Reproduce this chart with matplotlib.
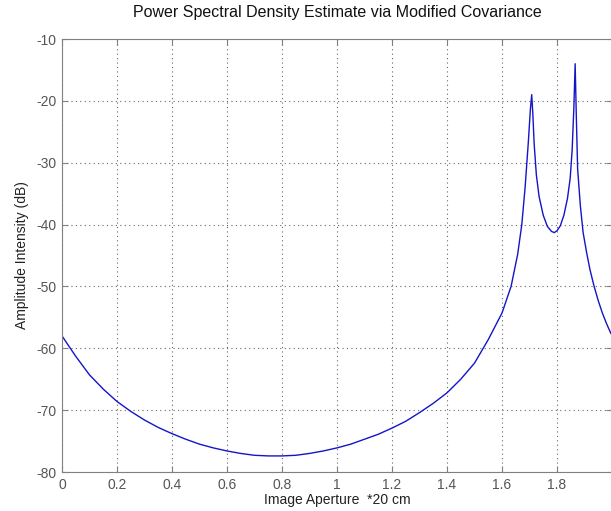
import numpy as np
import matplotlib
matplotlib.use("Agg")
import matplotlib.pyplot as plt

plt.rcParams['font.family'] = ['Liberation Sans', 'DejaVu Sans']
plt.rcParams['axes.unicode_minus'] = False

# values (normalised freq, dB)
freq = [0.0, 0.05, 0.1, 0.15, 0.2, 0.25, 0.3, 0.35, 0.4, 0.45, 0.5, 0.55,
        0.6, 0.65, 0.7, 0.75, 0.8, 0.85, 0.9, 0.95, 1.0, 1.05, 1.1, 1.15,
        1.2, 1.25, 1.3, 1.35, 1.4, 1.45, 1.5, 1.55, 1.6, 1.633, 1.657, 1.672,
        1.684, 1.696, 1.703, 1.708, 1.712, 1.717, 1.725, 1.735, 1.75, 1.765,
        1.78, 1.79, 1.80, 1.812, 1.825, 1.838, 1.848, 1.855, 1.861, 1.866,
        1.870, 1.875, 1.885, 1.895, 1.908, 1.92, 1.935, 1.95, 1.965, 1.98, 1.996]
psd_db = [-58.0, -61.3, -64.3, -66.6, -68.6, -70.2, -71.6, -72.8, -73.8, -74.7,
          -75.5, -76.1, -76.6, -77.0, -77.3, -77.4, -77.4, -77.3, -77.0, -76.6,
          -76.1, -75.5, -74.7, -73.9, -72.9, -71.8, -70.4, -68.9, -67.2, -65.0,
          -62.4, -58.6, -54.3, -50.0, -44.8, -40.0, -34.0, -26.5, -21.5, -19.0,
          -22.0, -27.0, -32.0, -35.5, -38.5, -40.3, -41.1, -41.3, -41.0, -40.2,
          -38.5, -35.8, -32.5, -28.0, -21.5, -14.0, -22.0, -31.0, -37.0, -41.3,
          -44.6, -47.3, -50.0, -52.3, -54.3, -56.0, -57.6]

xticks = [0, 0.2, 0.4, 0.6, 0.8, 1.0, 1.2, 1.4, 1.6, 1.8]
xtick_labels = ['0', '0.2', '0.4', '0.6', '0.8', '1', '1.2', '1.4', '1.6', '1.8']
yticks = [-80, -70, -60, -50, -40, -30, -20, -10]

fig = plt.figure(figsize=(6.11, 5.11), dpi=100)
ax = fig.add_axes([62/611, 1 - 472/511, 550/611, 433/511])

ax.plot(freq, psd_db, color='#1414c8', linewidth=1.0)

ax.set_xlim(0, 2)
ax.set_ylim(-80, -10)
ax.set_xticks(xticks)
ax.set_xticklabels(xtick_labels)
ax.set_yticks(yticks)

ax.grid(True, color='#666666', linestyle=(0, (1, 3)), linewidth=0.8)
for s in ax.spines.values():
    s.set_color('#808080')
ax.tick_params(direction='in', length=4, color='#808080', labelcolor='#555555',
               labelsize=10, top=True, right=True)
ax.tick_params(axis='x', pad=4)
ax.tick_params(axis='y', pad=4)

ax.set_title('Power Spectral Density Estimate via Modified Covariance',
             fontsize=11.5, color='#111111', pad=16)
ax.set_xlabel('Image Aperture  *20 cm', fontsize=10, color='#222222', labelpad=1)
ax.set_ylabel('Amplitude Intensity (dB)', fontsize=10, color='#222222', labelpad=5)

fig.savefig('out.png', dpi=100)
